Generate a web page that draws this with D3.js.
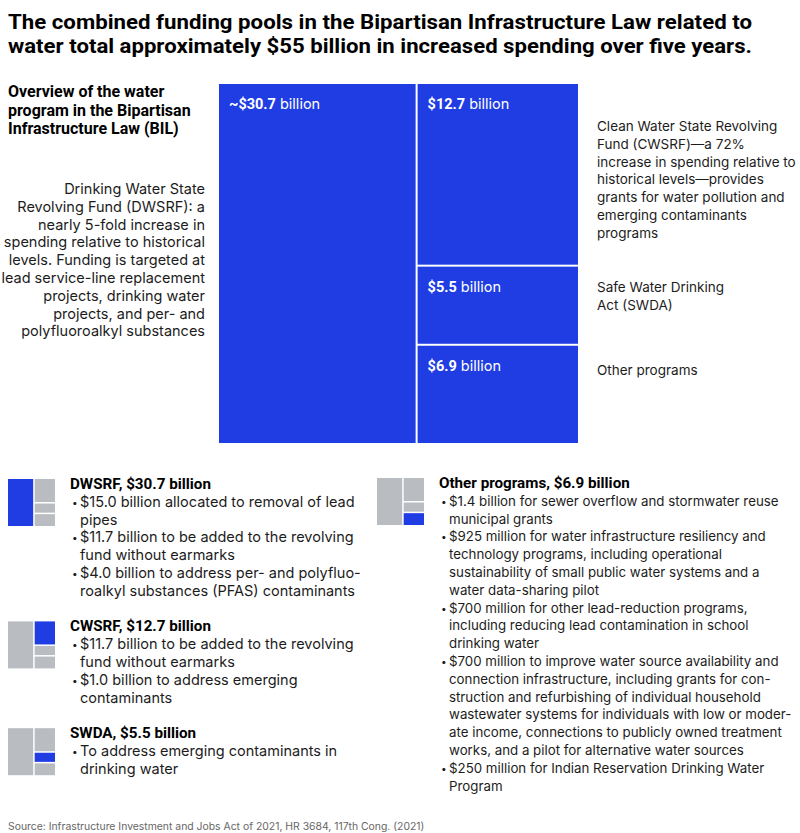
<!DOCTYPE html>
<html>
<head>
<meta charset="utf-8">
<script src="https://cdn.jsdelivr.net/npm/d3@7"></script>
<style>
  body { margin: 0; background: #fff; }
  svg text { font-family: Inter, "Liberation Sans", sans-serif; fill: #1c1c1c; }
  svg text.bold, svg tspan.bold { font-family: Roboto, "Liberation Sans", sans-serif; font-weight: 700; }
</style>
</head>
<body>
<svg id="chart" width="800" height="833"></svg>
<script>
// ---- data ----
const programs = ["DWSRF", "CWSRF", "SWDA", "Other programs"];
const funding = [30.7, 12.7, 5.5, 6.9];          // $ billion
const approxMark = ["~", "", "", ""];

const titleLines = [
  "The combined funding pools in the Bipartisan Infrastructure Law related to",
  "water total approximately $55 billion in increased spending over five years."
];
const overviewLines = [
  "Overview of the water",
  "program in the Bipartisan",
  "Infrastructure Law (BIL)"
];
const sideNotes = [
  ["Drinking Water State", "Revolving Fund (DWSRF): a", "nearly 5-fold increase in",
   "spending relative to historical", "levels. Funding is targeted at",
   "lead service-line replacement", "projects, drinking water",
   "projects, and per- and", "polyfluoroalkyl substances"],
  ["Clean Water State Revolving", "Fund (CWSRF)\u2014a 72%", "increase in spending relative to",
   "historical levels\u2014provides", "grants for water pollution and",
   "emerging contaminants", "programs"],
  ["Safe Water Drinking", "Act (SWDA)"],
  ["Other programs"]
];
const blockHeads = [
  "DWSRF, $30.7 billion",
  "CWSRF, $12.7 billion",
  "SWDA, $5.5 billion",
  "Other programs, $6.9 billion"
];
const blockBullets = [
  [
    ["$15.0 billion allocated to removal of lead", "pipes"],
    ["$11.7 billion to be added to the revolving", "fund without earmarks"],
    ["$4.0 billion to address per- and polyfluo-", "roalkyl substances (PFAS) contaminants"]
  ],
  [
    ["$11.7 billion to be added to the revolving", "fund without earmarks"],
    ["$1.0 billion to address emerging", "contaminants"]
  ],
  [
    ["To address emerging contaminants in", "drinking water"]
  ],
  [
    ["$1.4 billion for sewer overflow and stormwater reuse", "municipal grants"],
    ["$925 million for water infrastructure resiliency and",
     "technology programs, including operational",
     "sustainability of small public water systems and a",
     "water data-sharing pilot"],
    ["$700 million for other lead-reduction programs,",
     "including reducing lead contamination in school",
     "drinking water"],
    ["$700 million to improve water source availability and",
     "connection infrastructure, including grants for con-",
     "struction and refurbishing of individual household",
     "wastewater systems for individuals with low or moder-",
     "ate income, connections to publicly owned treatment",
     "works, and a pilot for alternative water sources"],
    ["$250 million for Indian Reservation Drinking Water", "Program"]
  ]
];
const sourceText = "Source: Infrastructure Investment and Jobs Act of 2021, HR 3684, 117th Cong. (2021)";

// ---- style / layout ----
const blue = "#1f3de3";
const gray = "#b9bcc0";
const lineH = 17.8;

const svg = d3.select("#chart");

// treemap: DWSRF on the left, the other three stacked on the right
function treemapLeaves(w, h, pad) {
  const root = d3.hierarchy({
    children: [
      { i: 0, value: funding[0] },
      { children: [1, 2, 3].map(i => ({ i, value: funding[i] })) }
    ]
  }).sum(d => d.value || 0);
  d3.treemap().tile(d3.treemapSliceDice).size([w, h]).paddingInner(pad)(root);
  return root.leaves();
}

// title
svg.append("g").selectAll("text")
  .data(titleLines)
  .join("text")
  .attr("class", "bold")
  .attr("x", 8)
  .attr("y", (d, i) => 29 + i * 24)
  .attr("font-size", 21)
  .attr("textLength", 744)
  .attr("lengthAdjust", "spacingAndGlyphs")
  .style("fill", "#000")
  .text(d => d);

// overview heading
svg.append("g").selectAll("text")
  .data(overviewLines)
  .join("text")
  .attr("class", "bold")
  .attr("x", 8)
  .attr("y", (d, i) => 97 + i * 18.7)
  .attr("font-size", 16)
  .style("fill", "#000")
  .text(d => d);

// main treemap
const main = svg.append("g").attr("transform", "translate(219,84)");
const leaves = treemapLeaves(359, 359, 2);

main.selectAll("rect")
  .data(leaves)
  .join("rect")
  .attr("x", d => d.x0)
  .attr("y", d => d.y0)
  .attr("width", d => d.x1 - d.x0)
  .attr("height", d => d.y1 - d.y0)
  .attr("fill", blue);

const lbl = main.selectAll("text.lbl")
  .data(leaves)
  .join("text")
  .attr("class", "lbl")
  .attr("x", d => d.x0 + 10)
  .attr("y", d => d.y0 + 25)
  .attr("font-size", 14.5);
lbl.append("tspan")
  .attr("class", "bold")
  .style("fill", "#fff")
  .text(d => approxMark[d.data.i] + "$" + funding[d.data.i].toFixed(1));
lbl.append("tspan")
  .style("fill", "#fff")
  .text(" billion");

// side notes
const noteX = [205, 597, 597, 597];
const noteY = [194, 131, 292, 375];
sideNotes.forEach((lines, k) => {
  svg.append("g").selectAll("text")
    .data(lines)
    .join("text")
    .attr("x", noteX[k])
    .attr("y", (d, i) => noteY[k] + i * lineH)
    .attr("text-anchor", k === 0 ? "end" : "start")
    .attr("font-size", k === 0 ? 14.5 : 13.5)
    .text(d => d);
});

// detail blocks with mini treemap icons
const iconLeaves = treemapLeaves(47, 47, 1.5);
const blockPos = [];
let yLeft = 489;
[0, 1, 2].forEach(k => {
  blockPos[k] = { x: 8, y: yLeft };
  const n = d3.sum(blockBullets[k], b => b.length);
  yLeft += (n + 2) * lineH;
});
blockPos[3] = { x: 377, y: 488 };

blockHeads.forEach((head, k) => {
  const p = blockPos[k];
  const bodySize = k === 3 ? 13.3 : 14.5;
  const g = svg.append("g").attr("transform", `translate(${p.x},${p.y})`);

  g.append("g").attr("transform", "translate(0,-10)")
    .selectAll("rect")
    .data(iconLeaves)
    .join("rect")
    .attr("x", d => d.x0)
    .attr("y", d => d.y0)
    .attr("width", d => d.x1 - d.x0)
    .attr("height", d => d.y1 - d.y0)
    .attr("fill", d => d.data.i === k ? blue : gray);

  g.append("text")
    .attr("class", "bold")
    .attr("x", 62)
    .attr("y", 0)
    .attr("font-size", 15.2)
    .style("fill", "#000")
    .text(head);

  let row = 1;
  blockBullets[k].forEach(lines => {
    g.append("text")
      .attr("x", 64)
      .attr("y", row * lineH - 1)
      .attr("font-size", 10)
      .text("\u2022");
    lines.forEach(line => {
      g.append("text")
        .attr("x", 72)
        .attr("y", row * lineH)
        .attr("font-size", bodySize)
        .text(line);
      row++;
    });
  });
});

// source
svg.append("text")
  .attr("x", 8)
  .attr("y", 830)
  .attr("font-size", 10.4)
  .style("fill", "#666")
  .text(sourceText);
</script>
</body>
</html>
